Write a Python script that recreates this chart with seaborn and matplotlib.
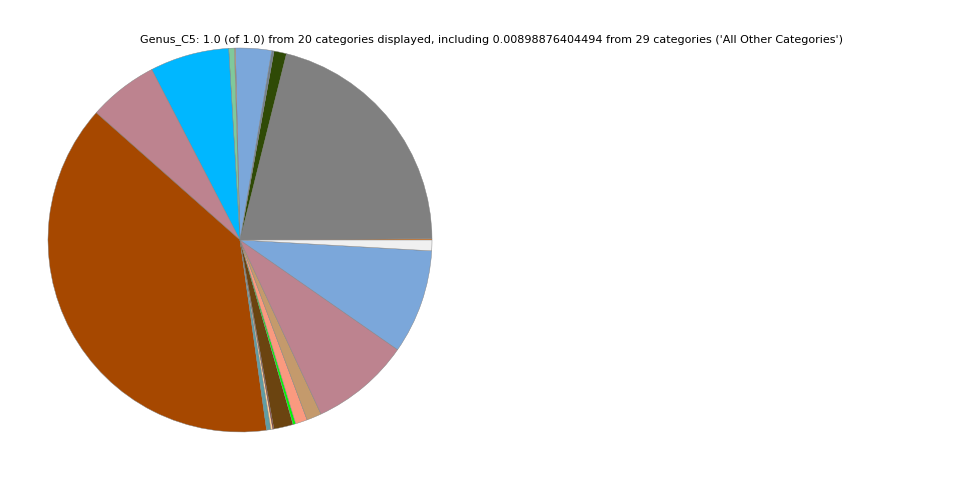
import matplotlib
matplotlib.use("Agg")
import matplotlib.pyplot as plt
import seaborn as sns

sns.set_theme(style="white")
plt.rcParams['font.family'] = ['DejaVu Sans']

categories = [
    "Genus 1", "Genus 2", "Genus 3", "Genus 4", "Genus 5",
    "Genus 6", "Genus 7", "Genus 8", "Genus 9", "Genus 10",
    "Genus 11", "Genus 12", "Genus 13", "Genus 14", "Genus 15",
    "Genus 16", "Genus 17", "Genus 18", "Genus 19", "All Other Categories",
]
# slice sizes in degrees (normalized by the pie)
values = [0.4, 75.6, 3.8, 0.7, 10.9,
          0.3, 1.7, 24.0, 21.1, 139.5,
          1.3, 0.6, 0.3, 5.9, 0.8,
          3.6, 4.5, 30.2, 31.6, 3.24]
colors = ["#E0781E", "#808080", "#2F4A06", "#708090", "#7BA7DA",
          "#D9A066", "#80C99B", "#00B7FF", "#BD838F", "#A64800",
          "#5F9EA5", "#FFD39B", "#8B0000", "#6B4410", "#00FF00",
          "#FA9A7F", "#C49A6C", "#BD838F", "#7BA7DA", "#F0F0F0"]
title = ("Genus_C5: 1.0 (of 1.0) from 20 categories displayed, including "
         "0.00898876404494 from 29 categories ('All Other Categories')")

fig = plt.figure(figsize=(9.6, 4.8), dpi=100)
ax = fig.add_axes([0.0, 0.0, 0.5, 1.0])
ax.pie(values, colors=colors, startangle=0, counterclock=True, normalize=True,
       wedgeprops=dict(edgecolor="#808080", linewidth=0.3))
ax.set_aspect("equal")
fig.text(492 / 960, 1 - 40 / 480, title, ha="center", va="center",
         fontsize=8, color="black")
fig.savefig("out.png", dpi=100, facecolor="white")
